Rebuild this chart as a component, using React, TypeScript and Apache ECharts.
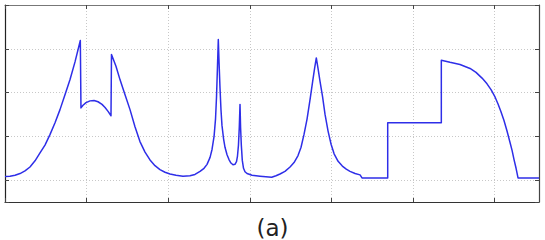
import React, { useEffect, useRef } from "react";
import * as echarts from "echarts";

// Signal samples: [sample index, amplitude]
const seg1Rise: number[][] = [
  [0, 0.08], [6.1, 0.09], [12.3, 0.11], [18.4, 0.15], [24.5, 0.21], [30.6, 0.3],
  [36.8, 0.44], [42.9, 0.62], [49.0, 0.8], [55.1, 1.04], [61.3, 1.31], [67.4, 1.61],
  [73.5, 1.95], [79.7, 2.3], [85.8, 2.7], [92.3, 3.19],
];
const seg1Hump: number[][] = [
  [93.1, 1.65], [95.6, 1.71], [99.3, 1.77], [104.2, 1.81], [109.1, 1.82], [114.0, 1.79],
  [118.9, 1.73], [122.6, 1.66], [126.3, 1.57], [129.9, 1.47],
];
const seg1Fall: number[][] = [
  [130.5, 2.87], [136.0, 2.6], [141.0, 2.29], [147.1, 1.95], [153.2, 1.61], [159.3, 1.22],
  [165.4, 0.88], [171.6, 0.64], [177.7, 0.46], [183.8, 0.33], [189.9, 0.24], [196.1, 0.18],
  [202.2, 0.14], [209.6, 0.11], [218.1, 0.09], [226.7, 0.1], [232.8, 0.13],
];
const seg2Peaks: number[][] = [
  [239.0, 0.2], [243.9, 0.27], [247.6, 0.36], [251.3, 0.52], [253.7, 0.7], [256.2, 1.0],
  [258.0, 1.4], [259.2, 1.9], [260.4, 2.6], [261.4, 3.21], [262.3, 2.7], [263.5, 2.1],
  [264.7, 1.6], [265.9, 1.25], [267.8, 0.95], [269.6, 0.75], [272.1, 0.58], [274.5, 0.47],
  [276.9, 0.39], [279.4, 0.35], [281.8, 0.36], [283.7, 0.42], [284.9, 0.55], [286.1, 0.8],
  [287.1, 1.2], [288.0, 1.73], [288.7, 1.2], [289.6, 0.8], [290.8, 0.45], [292.3, 0.27],
  [294.1, 0.19], [296.6, 0.15], [302.7, 0.11], [312.5, 0.09], [326.8, 0.065],
];
const seg3Peak: number[][] = [
  [332.1, 0.1], [337.0, 0.14], [343.1, 0.2], [349.3, 0.3], [354.2, 0.4], [359.1, 0.56],
  [362.8, 0.75], [366.5, 1.05], [370.2, 1.4], [373.9, 1.85], [377.0, 2.25], [379.4, 2.55],
  [381.5, 2.79], [383.6, 2.55], [386.1, 2.25], [389.2, 1.9], [392.2, 1.5], [395.9, 1.12],
  [399.6, 0.82], [403.3, 0.6], [408.2, 0.43], [413.4, 0.32], [418.2, 0.25], [422.8, 0.2],
  [429.0, 0.15], [435.1, 0.12],
];
const seg4Blocks: number[][] = [
  [437.5, 0.05], [469, 0.05], [469, 1.31], [534.7, 1.31], [534.7, 2.74],
];
const seg5Fall: number[][] = [
  [545.3, 2.69], [557.6, 2.64], [569.9, 2.55], [577.2, 2.46], [584.6, 2.33], [590.7, 2.2],
  [595.8, 2.06], [600.5, 1.9], [604.2, 1.74], [607.8, 1.56], [611.5, 1.36], [615.2, 1.12],
  [618.9, 0.86], [621.4, 0.68], [623.8, 0.47], [626.3, 0.27], [628.7, 0.05], [654.4, 0.05],
];

const signal: number[][] = [
  ...seg1Rise, ...seg1Hump, ...seg1Fall, ...seg2Peaks, ...seg3Peak, ...seg4Blocks, ...seg5Fall,
];

const X_MIN = 0;
const X_MAX = 654.4;
const X_STEP = 100;
const Y_MIN = -0.5;
const Y_MAX = 4;
const caption = "(a)";

export default function App() {
  const ref = useRef<HTMLDivElement>(null);
  useEffect(() => {
    document.body.style.margin = "0";
    if (!ref.current) return;
    const chart = echarts.init(ref.current, undefined, { renderer: "svg" });
    const gridLine = { show: true, lineStyle: { color: "#c8c8c8", type: [1, 2] as any, width: 1 } };
    chart.setOption({
      animation: false,
      backgroundColor: "#ffffff",
      grid: { left: 5, top: 5, width: 534, height: 197, show: false },
      title: {
        text: caption,
        left: "center",
        top: 211,
        textStyle: { fontFamily: "DejaVu Sans", fontSize: 23, fontWeight: "normal", color: "#222" },
      },
      xAxis: [
        {
          type: "value", min: X_MIN, max: X_MAX, interval: X_STEP,
          axisLine: { show: true, onZero: false, lineStyle: { color: "#333", width: 1.2 } },
          axisTick: { show: true, inside: true, length: 4, lineStyle: { color: "#444" } },
          axisLabel: { show: false },
          splitLine: gridLine,
        },
        {
          type: "value", position: "top", min: X_MIN, max: X_MAX, interval: X_STEP,
          axisLine: { show: true, onZero: false, lineStyle: { color: "#777", width: 1.2 } },
          axisTick: { show: true, inside: true, length: 4, lineStyle: { color: "#444" } },
          axisLabel: { show: false },
          splitLine: { show: false },
        },
      ],
      yAxis: [
        {
          type: "value", min: Y_MIN, max: Y_MAX, splitNumber: 5,
          axisLine: { show: true, onZero: false, lineStyle: { color: "#222", width: 1.2 } },
          axisTick: { show: true, inside: true, length: 4, lineStyle: { color: "#444" } },
          axisLabel: { show: false },
          splitLine: gridLine,
        },
        {
          type: "value", position: "right", min: Y_MIN, max: Y_MAX, splitNumber: 5,
          axisLine: { show: true, onZero: false, lineStyle: { color: "#444", width: 1.2 } },
          axisTick: { show: true, inside: true, length: 4, lineStyle: { color: "#444" } },
          axisLabel: { show: false },
          splitLine: { show: false },
        },
      ],
      series: [
        {
          type: "line",
          data: signal,
          showSymbol: false,
          smooth: false,
          lineStyle: { color: "#2e2ee8", width: 1.5, join: "round" },
          xAxisIndex: 0,
          yAxisIndex: 0,
        },
      ],
    });
    return () => chart.dispose();
  }, []);
  return <div ref={ref} style={{ width: 545, height: 240 }} />;
}
